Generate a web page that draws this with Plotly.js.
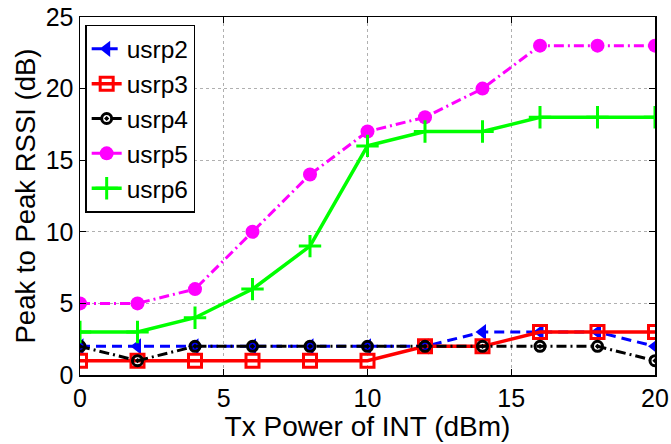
<!DOCTYPE html>
<html>
<head>
<meta charset="utf-8">
<script src="https://cdn.plot.ly/plotly-3.0.1.min.js"></script>
<style>html,body{margin:0;padding:0;background:#fff;}#chart{width:671px;height:444px;}</style>
</head>
<body>
<div id="chart"></div>
<script>
var txPower = [0, 2, 4, 6, 8, 10, 12, 14, 16, 18, 20];
var usrp2 = [2, 2, 2, 2, 2, 2, 2, 3, 3, 3, 2];
var usrp3 = [1, 1, 1, 1, 1, 1, 2, 2, 3, 3, 3];
var usrp4 = [2, 1, 2, 2, 2, 2, 2, 2, 2, 2, 1];
var usrp5 = [5, 5, 6, 10, 14, 17, 18, 20, 23, 23, 23];
var usrp6 = [3, 3, 4, 6, 9, 16, 17, 17, 18, 18, 18];
var seriesNames = ['usrp2', 'usrp3', 'usrp4', 'usrp5', 'usrp6'];

var traces = [
  {x: txPower, y: usrp2, name: seriesNames[0], mode: 'lines+markers',
   line: {color: '#0000ff', width: 3, dash: '10px,6px'},
   marker: {symbol: 'triangle-left', size: 14, color: '#0000ff'}},
  {x: txPower, y: usrp3, name: seriesNames[1], mode: 'lines+markers',
   line: {color: '#ff0000', width: 3.5},
   marker: {symbol: 'square-open', size: 13, color: '#ff0000', line: {width: 3, color: '#ff0000'}}},
  {x: txPower, y: usrp4, name: seriesNames[2], mode: 'lines+markers',
   line: {color: '#000000', width: 3, dash: '10px,4px,2px,4px'},
   marker: {symbol: 'circle-open-dot', size: 10, color: '#000000', line: {width: 3, color: '#000000'}}},
  {x: txPower, y: usrp5, name: seriesNames[3], mode: 'lines+markers',
   line: {color: '#ff00ff', width: 3, dash: '10px,4px,2px,4px'},
   marker: {symbol: 'circle', size: 14, color: '#ff00ff'}},
  {x: txPower, y: usrp6, name: seriesNames[4], mode: 'lines+markers',
   line: {color: '#00ff00', width: 3.5},
   marker: {symbol: 'cross-thin-open', size: 16, color: '#00ff00', line: {width: 3, color: '#00ff00'}}}
];

var fontFam = 'Liberation Sans, Arial, sans-serif';
var layout = {
  width: 671, height: 444,
  margin: {l: 80, r: 16, t: 17, b: 69},
  paper_bgcolor: '#fff', plot_bgcolor: '#fff',
  font: {family: fontFam, color: '#000', size: 25},
  showlegend: true,
  legend: {x: 0.009, y: 0.978, xanchor: 'left', yanchor: 'top',
           bgcolor: '#fff', bordercolor: '#000', borderwidth: 1.5,
           font: {size: 24.5, family: fontFam}, tracegroupgap: 0},
  xaxis: {range: [0, 20], tickvals: [0, 5, 10, 15, 20],
          title: {text: 'Tx Power of INT (dBm)', font: {size: 28}, standoff: 0},
          showline: true, mirror: 'ticks', linecolor: '#000', linewidth: 1.5,
          ticks: 'inside', ticklen: 6, tickcolor: '#000',
          showgrid: true, gridcolor: '#b0b0b0', griddash: 'dot', gridwidth: 1,
          zeroline: false, tickfont: {size: 25}},
  yaxis: {range: [0, 25], tickvals: [0, 5, 10, 15, 20, 25],
          title: {text: 'Peak to Peak RSSI (dB)', font: {size: 27.5}, standoff: 2},
          showline: true, mirror: 'ticks', linecolor: '#000', linewidth: 1.5,
          ticks: 'inside', ticklen: 6, tickcolor: '#000',
          showgrid: true, gridcolor: '#b0b0b0', griddash: 'dot', gridwidth: 1,
          zeroline: false, tickfont: {size: 25}}
};

Plotly.newPlot('chart', traces, layout, {displayModeBar: false, staticPlot: true});
</script>
</body>
</html>
